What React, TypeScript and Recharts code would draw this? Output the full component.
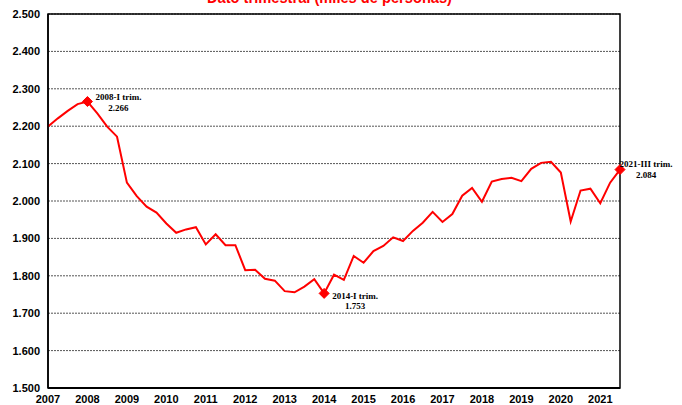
import React from "react";
import {
  LineChart,
  Line,
  XAxis,
  YAxis,
  CartesianGrid,
  ReferenceArea,
} from "recharts";

// Quarterly values, 2007-I .. 2021-III (thousands of persons)
const quarterValues = [
  2199, 2221, 2241, 2259, // 2007
  2266, 2234, 2199, 2172, // 2008
  2049, 2013, 1985, 1969, // 2009
  1940, 1915, 1924, 1930, // 2010
  1884, 1911, 1882, 1882, // 2011
  1815, 1816, 1792, 1787, // 2012
  1759, 1756, 1771, 1791, // 2013
  1753, 1803, 1789, 1853, // 2014
  1835, 1866, 1880, 1903, // 2015
  1893, 1920, 1942, 1971, // 2016
  1944, 1965, 2014, 2035, // 2017
  1998, 2052, 2059, 2062, // 2018
  2053, 2086, 2102, 2105, // 2019
  2076, 1945, 2028, 2033, // 2020
  1994, 2049, 2084, // 2021
];

const yearLabels = [
  "2007", "2008", "2009", "2010", "2011", "2012", "2013", "2014",
  "2015", "2016", "2017", "2018", "2019", "2020", "2021",
];

const yTicks = [1500, 1600, 1700, 1800, 1900, 2000, 2100, 2200, 2300, 2400, 2500];

const highlights = [
  { index: 4, label: "2008-I trim." },
  { index: 28, label: "2014-I trim." },
  { index: 58, label: "2021-III trim." },
];

const title = "Dato trimestral (miles de personas)";

const data = quarterValues.map((v, i) => ({ i, value: v }));
const xTicks = yearLabels.map((_, k) => k * 4);

// label placement relative to the marker, per highlight
const labelOffsets: Record<number, { dx: number; dy1: number; dy2: number }> = {
  4: { dx: 31, dy1: -2, dy2: 9 },
  28: { dx: 31, dy1: 6, dy2: 16 },
  58: { dx: 26, dy1: -2.5, dy2: 8 },
};

const fmt = (v: number) => (v / 1000).toFixed(3);

const HighlightDot = (props: any) => {
  const { cx, cy, index } = props;
  const h = highlights.find((d) => d.index === index);
  if (!h || cx == null || cy == null) return <g key={`d-${index}`} />;
  const off = labelOffsets[index];
  const r = 5;
  return (
    <g key={`d-${index}`}>
      <polygon
        points={`${cx},${cy - r} ${cx + r},${cy} ${cx},${cy + r} ${cx - r},${cy}`}
        fill="#FF0000"
        stroke="#FF0000"
      />
      <text
        x={cx + off.dx}
        y={cy + off.dy1}
        textAnchor="middle"
        fontFamily="'Liberation Serif', 'Times New Roman', serif"
        fontWeight="bold"
        fontSize={9}
        fill="#000"
      >
        {h.label}
      </text>
      <text
        x={cx + off.dx}
        y={cy + off.dy2}
        textAnchor="middle"
        fontFamily="'Liberation Serif', 'Times New Roman', serif"
        fontWeight="bold"
        fontSize={9}
        fill="#000"
      >
        {fmt(quarterValues[index])}
      </text>
    </g>
  );
};

const tickStyle = {
  fontFamily: "'Liberation Sans Narrow', 'Liberation Sans', Arial, sans-serif",
  fontWeight: "bold",
  fontSize: 11,
  fill: "#000",
};

export default function App() {
  return (
    <div style={{ position: "absolute", left: 0, top: 0, width: 682, height: 405 }}>
      <LineChart
        width={682}
        height={405}
        data={data}
        margin={{ top: 14, right: 62, left: 0, bottom: 0 }}
      >
        <CartesianGrid
          vertical={false}
          stroke="#555"
          strokeDasharray="2 1"
        />
        <XAxis
          dataKey="i"
          type="number"
          domain={[0, 58]}
          ticks={xTicks}
          interval={0}
          tickFormatter={(v: number) => yearLabels[v / 4]}
          tick={tickStyle}
          tickLine={false}
          tickSize={0}
          tickMargin={7}
          height={17}
          axisLine={{ stroke: "#000", strokeWidth: 2 }}
        />
        <YAxis
          domain={[1500, 2500]}
          ticks={yTicks}
          interval={0}
          tickFormatter={fmt}
          tick={tickStyle}
          tickLine={false}
          tickSize={0}
          tickMargin={8}
          width={48}
          axisLine={{ stroke: "#000", strokeWidth: 1.5 }}
        />
        <ReferenceArea
          x1={0}
          x2={58}
          y1={1500}
          y2={2500}
          fill="none"
          stroke="#000"
          strokeWidth={1.5}
          ifOverflow="visible"
        />
        <Line
          type="linear"
          dataKey="value"
          stroke="#FF0000"
          strokeWidth={2}
          dot={HighlightDot}
          activeDot={false}
          isAnimationActive={false}
        />
      </LineChart>
      <svg
        width={682}
        height={20}
        style={{ position: "absolute", left: 0, top: 0, pointerEvents: "none" }}
      >
        <text
          x={207}
          y={3}
          textLength={245}
          lengthAdjust="spacingAndGlyphs"
          fontFamily="'Liberation Sans', Arial, sans-serif"
          fontWeight="bold"
          fontSize={17}
          fill="#FF0000"
        >
          {title}
        </text>
      </svg>
    </div>
  );
}
